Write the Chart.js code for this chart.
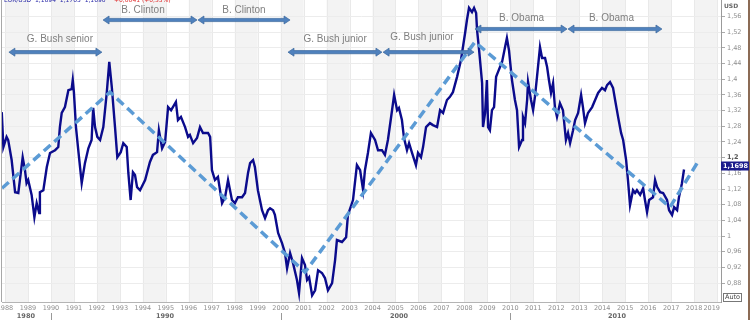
<!DOCTYPE html>
<html>
<head>
<meta charset="utf-8">
<script src="https://cdn.jsdelivr.net/npm/chart.js@4.4.1/dist/chart.umd.min.js"></script>
<style>
  html, body { margin: 0; padding: 0; background: #fff; }
  canvas { display: block; }
</style>
</head>
<body>
<canvas id="fxChart" width="754" height="335"></canvas>
<script>
// EUR/USD (ECU before 1999), decimal years
const years = [
  1987.86, 1987.93, 1988.07, 1988.14, 1988.29, 1988.44, 1988.58, 1988.77, 1988.87, 1988.94,
  1989.01, 1989.16, 1989.28, 1989.38, 1989.49, 1989.52, 1989.67, 1989.82, 1989.96, 1990.18,
  1990.32, 1990.39, 1990.47, 1990.61, 1990.76, 1990.90, 1990.95, 1991.00, 1991.09, 1991.19,
  1991.34, 1991.48, 1991.63, 1991.77, 1991.84, 1991.92, 1992.02, 1992.14, 1992.28, 1992.43,
  1992.54, 1992.65, 1992.79, 1992.89, 1993.04, 1993.15, 1993.30, 1993.37, 1993.47, 1993.57,
  1993.66, 1993.75, 1993.88, 1994.10, 1994.31, 1994.44, 1994.62, 1994.70, 1994.84, 1994.97,
  1995.10, 1995.23, 1995.31, 1995.44, 1995.53, 1995.66, 1995.84, 1995.97, 1996.05, 1996.19,
  1996.36, 1996.49, 1996.62, 1996.84, 1996.93, 1997.01, 1997.14, 1997.27, 1997.45, 1997.58,
  1997.71, 1997.88, 1998.01, 1998.14, 1998.32, 1998.45, 1998.58, 1998.67, 1998.80, 1998.88,
  1999.01, 1999.19, 1999.32, 1999.45, 1999.54, 1999.67, 1999.75, 1999.89, 2000.06, 2000.19,
  2000.28, 2000.41, 2000.54, 2000.71, 2000.80, 2000.93, 2001.06, 2001.15, 2001.24, 2001.37,
  2001.50, 2001.63, 2001.80, 2001.93, 2002.06, 2002.24, 2002.37, 2002.45, 2002.67, 2002.85,
  2002.93, 2003.15, 2003.32, 2003.46, 2003.59, 2003.67, 2003.80, 2003.93, 2004.11, 2004.24,
  2004.41, 2004.54, 2004.67, 2004.85, 2004.94, 2005.07, 2005.15, 2005.28, 2005.37, 2005.50,
  2005.59, 2005.72, 2005.89, 2005.98, 2006.11, 2006.20, 2006.33, 2006.50, 2006.63, 2006.81,
  2006.94, 2007.07, 2007.24, 2007.37, 2007.50, 2007.68, 2007.85, 2008.03, 2008.11, 2008.20,
  2008.33, 2008.42, 2008.51, 2008.55, 2008.64, 2008.77, 2008.81, 2008.90, 2008.98, 2009.03,
  2009.11, 2009.20, 2009.29, 2009.38, 2009.46, 2009.55, 2009.64, 2009.77, 2009.85, 2009.94,
  2010.07, 2010.20, 2010.29, 2010.38, 2010.51, 2010.55, 2010.64, 2010.73, 2010.77, 2010.90,
  2010.99, 2011.07, 2011.16, 2011.29, 2011.38, 2011.51, 2011.60, 2011.68, 2011.77, 2011.86,
  2011.94, 2012.03, 2012.16, 2012.29, 2012.42, 2012.51, 2012.60, 2012.73, 2012.82, 2012.95,
  2013.08, 2013.16, 2013.25, 2013.38, 2013.56, 2013.69, 2013.82, 2013.99, 2014.12, 2014.21,
  2014.34, 2014.47, 2014.56, 2014.69, 2014.82, 2014.91, 2015.04, 2015.12, 2015.21, 2015.34,
  2015.43, 2015.51, 2015.65, 2015.78, 2015.86, 2015.95, 2016.04, 2016.21, 2016.30, 2016.39,
  2016.52, 2016.65, 2016.82, 2016.91, 2017.04, 2017.13, 2017.26, 2017.34, 2017.47, 2017.56
];
const rates = [
  1.316, 1.227, 1.253, 1.245, 1.194, 1.112, 1.110, 1.201, 1.168, 1.135,
  1.143, 1.105, 1.048, 1.084, 1.059, 1.112, 1.117, 1.176, 1.212, 1.219,
  1.227, 1.278, 1.314, 1.329, 1.372, 1.375, 1.398, 1.367, 1.278, 1.219,
  1.135, 1.186, 1.224, 1.245, 1.327, 1.278, 1.253, 1.245, 1.278, 1.365,
  1.444, 1.380, 1.278, 1.201, 1.214, 1.237, 1.227, 1.161, 1.092, 1.163,
  1.156, 1.125, 1.117, 1.143, 1.189, 1.207, 1.214, 1.270, 1.224, 1.240,
  1.329, 1.321, 1.329, 1.342, 1.296, 1.304, 1.278, 1.253, 1.258, 1.237,
  1.250, 1.278, 1.263, 1.263, 1.253, 1.168, 1.143, 1.151, 1.084, 1.099,
  1.143, 1.092, 1.084, 1.099, 1.099, 1.110, 1.161, 1.186, 1.194, 1.176,
  1.117, 1.066, 1.046, 1.066, 1.071, 1.066, 1.054, 1.008, 0.982, 0.957,
  0.918, 0.957, 0.931, 0.888, 0.855, 0.944, 0.926, 0.888, 0.895, 0.849,
  0.862, 0.913, 0.906, 0.893, 0.862, 0.880, 0.939, 0.990, 0.985, 0.997,
  1.054, 1.092, 1.181, 1.168, 1.117, 1.168, 1.212, 1.263, 1.245, 1.219,
  1.219, 1.207, 1.245, 1.321, 1.360, 1.321, 1.327, 1.296, 1.250, 1.219,
  1.237, 1.212, 1.181, 1.212, 1.201, 1.227, 1.278, 1.288, 1.283, 1.278,
  1.321, 1.314, 1.347, 1.355, 1.367, 1.406, 1.449, 1.518, 1.551, 1.582,
  1.571, 1.582, 1.569, 1.526, 1.474, 1.390, 1.278, 1.314, 1.398, 1.278,
  1.270, 1.321, 1.329, 1.406, 1.418, 1.431, 1.444, 1.482, 1.505, 1.474,
  1.398, 1.347, 1.321, 1.227, 1.245, 1.304, 1.288, 1.347, 1.393, 1.347,
  1.321, 1.355, 1.406, 1.482, 1.454, 1.454, 1.431, 1.398, 1.365, 1.390,
  1.329, 1.304, 1.339, 1.321, 1.245, 1.263, 1.237, 1.270, 1.296, 1.314,
  1.360, 1.329, 1.288, 1.314, 1.329, 1.347, 1.365, 1.378, 1.372, 1.385,
  1.393, 1.378, 1.347, 1.304, 1.263, 1.245, 1.194, 1.143, 1.079, 1.117,
  1.110, 1.117, 1.105, 1.122, 1.092, 1.061, 1.092, 1.099, 1.143, 1.125,
  1.112, 1.110, 1.092, 1.066, 1.054, 1.074, 1.066, 1.099, 1.135, 1.1698
];

// hand-drawn trend channel (vertices)
const trendYears = [1987.87, 1992.57, 2001.06, 2008.46, 2016.95, 2018.13];
const trendRates = [1.122, 1.367, 0.908, 1.495, 1.074, 1.186];

// presidential terms shown as double arrows
const termNames = ['G. Bush senior', 'B. Clinton', 'B. Clinton', 'G. Bush junior', 'G. Bush junior', 'B. Obama', 'B. Obama'];
const termFrom = [1988.17, 1992.27, 1996.40, 2000.32, 2004.46, 2008.46, 2012.51];
const termTo = [1992.22, 1996.36, 2000.41, 2004.41, 2008.42, 2012.47, 2016.60];
const termLevel = [1.469, 1.551, 1.551, 1.469, 1.469, 1.528, 1.528];
const termTextAt = [1990.39, 1994.01, 1998.40, 2002.37, 2006.15, 2010.49, 2014.40];
const termTextLevel = [1.503, 1.577, 1.577, 1.502, 1.506, 1.556, 1.556];

// axis ticks
const yearTicks = [1988, 1989, 1990, 1991, 1992, 1993, 1994, 1995, 1996, 1997, 1998, 1999, 2000, 2001, 2002, 2003,
  2004, 2005, 2006, 2007, 2008, 2009, 2010, 2011, 2012, 2013, 2014, 2015, 2016, 2017, 2018, 2019];
const decadeNames = ['1980', '1990', '2000', '2010'];
const decadeTextAt = [1988.91, 1994.97, 2005.15, 2014.64];
const decadeMarks = [1990, 2000, 2010];
const rateTicks = [0.88, 0.92, 0.96, 1, 1.04, 1.08, 1.12, 1.16, 1.2, 1.24, 1.28, 1.32, 1.36, 1.4, 1.44, 1.48, 1.52, 1.56];
const lastRate = rates[rates.length - 1];

const fmt = v => String(v).replace('.', ',');
const smallFont = '6.5px "DejaVu Sans", sans-serif';

function drawArrow(ctx, x0, x1, yy) {
  const head = 6, half = 4, shaft = 1.6;
  ctx.beginPath();
  ctx.moveTo(x0, yy);
  ctx.lineTo(x0 + head, yy - half);
  ctx.lineTo(x0 + head, yy - shaft);
  ctx.lineTo(x1 - head, yy - shaft);
  ctx.lineTo(x1 - head, yy - half);
  ctx.lineTo(x1, yy);
  ctx.lineTo(x1 - head, yy + half);
  ctx.lineTo(x1 - head, yy + shaft);
  ctx.lineTo(x0 + head, yy + shaft);
  ctx.lineTo(x0 + head, yy + half);
  ctx.closePath();
  ctx.fillStyle = '#4f81bd';
  ctx.fill();
  ctx.strokeStyle = '#3b679c';
  ctx.lineWidth = 0.7;
  ctx.stroke();
}

const decorations = {
  id: 'decorations',
  beforeDraw(chart) {
    const {ctx, chartArea: a, scales: {x}} = chart;
    ctx.save();
    ctx.fillStyle = '#fff';
    ctx.fillRect(0, 0, chart.width, chart.height);
    ctx.beginPath();
    ctx.rect(a.left, a.top, a.width, a.height);
    ctx.clip();
    yearTicks.forEach(yr => {
      const x0 = x.getPixelForValue(yr), x1 = x.getPixelForValue(yr + 1);
      if (yr % 2 === 0) {
        ctx.fillStyle = '#f3f3f3';
        ctx.fillRect(x0, a.top, x1 - x0, a.height);
      }
      ctx.fillStyle = '#e9e9e9';
      ctx.fillRect(Math.round(x0), a.top, 1, a.height);
    });
    ctx.restore();
  },
  afterDatasetsDraw(chart) {
    const {ctx, scales: {x, y}} = chart;
    ctx.save();
    termNames.forEach((name, i) => {
      drawArrow(ctx, x.getPixelForValue(termFrom[i]), x.getPixelForValue(termTo[i]), y.getPixelForValue(termLevel[i]));
      ctx.font = '10px "Liberation Sans", Arial, sans-serif';
      ctx.fillStyle = '#7f7f7f';
      ctx.textAlign = 'center';
      ctx.textBaseline = 'middle';
      ctx.fillText(name, x.getPixelForValue(termTextAt[i]), y.getPixelForValue(termTextLevel[i]));
    });
    ctx.restore();
  },
  afterDraw(chart) {
    const {ctx, chartArea: a, scales: {x, y}} = chart;
    ctx.save();

    // plot frame bits
    ctx.fillStyle = '#a8a8a8';
    ctx.fillRect(a.left - 1, a.top, 1, a.bottom - a.top);
    ctx.fillStyle = '#8b6b55';
    ctx.fillRect(748, 0, 2, 320);

    // quote header, cut off by the top edge
    ctx.font = '6px "DejaVu Sans", sans-serif';
    ctx.textBaseline = 'middle';
    ctx.textAlign = 'left';
    ctx.fillStyle = '#2a2aa8';
    ctx.fillText('EUR/USD  1,1694  1,1705  1,1690', 4, 0);
    ctx.fillStyle = '#e03030';
    ctx.fillText('+0,0041 (+0,35%)', 114, 0);

    // right axis labels
    ctx.textAlign = 'left';
    rateTicks.forEach(v => {
      ctx.font = v === 1.2 ? 'bold ' + smallFont : smallFont;
      ctx.fillStyle = v === 1.2 ? '#555' : '#8f8f8f';
      ctx.fillText(fmt(v), a.right + 6, y.getPixelForValue(v));
    });
    ctx.font = 'bold 6px "DejaVu Sans", sans-serif';
    ctx.fillStyle = '#666';
    ctx.fillText('USD', a.right + 3, 6);

    // last close tag
    const ty = y.getPixelForValue(lastRate);
    ctx.fillStyle = '#1c1c8c';
    ctx.fillRect(a.right, ty - 8, 28, 9);
    ctx.fillStyle = '#fff';
    ctx.font = 'bold 6.5px "DejaVu Sans", sans-serif';
    ctx.fillText(fmt(lastRate), a.right + 2, ty - 3.5);

    // Auto button
    ctx.strokeStyle = '#777';
    ctx.lineWidth = 1;
    ctx.strokeRect(a.right + 2.5, a.bottom - 8.5, 18, 8);
    ctx.fillStyle = '#444';
    ctx.font = smallFont;
    ctx.fillText('Auto', a.right + 4, a.bottom - 4.5);

    // year labels
    ctx.font = smallFont;
    ctx.fillStyle = '#8f8f8f';
    ctx.textAlign = 'center';
    yearTicks.forEach(yr => {
      let px = x.getPixelForValue(yr);
      const w = ctx.measureText(String(yr)).width;
      px = Math.min(px, a.right - w / 2 - 1);
      ctx.fillText(String(yr), px, a.bottom + 6);
    });

    // decade row
    ctx.font = 'bold ' + smallFont;
    ctx.fillStyle = '#666';
    decadeNames.forEach((d, i) => ctx.fillText(d, x.getPixelForValue(decadeTextAt[i]), a.bottom + 14));
    ctx.fillStyle = '#999';
    decadeMarks.forEach(d => ctx.fillRect(Math.round(x.getPixelForValue(d)), a.bottom + 11, 1, 7));

    ctx.restore();
  }
};

new Chart(document.getElementById('fxChart'), {
  type: 'line',
  data: {
    datasets: [
      {
        label: 'Trend',
        data: trendYears.map((t, i) => ({x: t, y: trendRates[i]})),
        borderColor: '#5b9bd5',
        borderWidth: 3.5,
        borderDash: [9, 5],
        pointRadius: 0,
        order: 0
      },
      {
        label: 'EUR/USD',
        data: years.map((t, i) => ({x: t, y: rates[i]})),
        borderColor: '#0b0b8c',
        borderWidth: 2.4,
        pointRadius: 0,
        tension: 0,
        order: 1
      }
    ]
  },
  options: {
    responsive: false,
    devicePixelRatio: 1,
    animation: false,
    layout: {padding: {left: 2, top: 0, right: 0, bottom: 0}},
    plugins: {legend: {display: false}, tooltip: {enabled: false}},
    scales: {
      x: {
        type: 'linear',
        min: 1987.87,
        max: 2019.17,
        afterBuildTicks: s => { s.ticks = yearTicks.map(v => ({value: v})); },
        afterFit: s => { s.height = 33; },
        grid: {display: false},
        border: {color: '#b4b4b4'},
        ticks: {display: false}
      },
      y: {
        position: 'right',
        min: 0.832,
        max: 1.602,
        afterBuildTicks: s => { s.ticks = rateTicks.map(v => ({value: v})); },
        afterFit: s => { s.width = 33; },
        grid: {color: '#ececec', tickColor: '#aaa', tickLength: 4},
        border: {color: '#9a9a9a'},
        ticks: {display: false}
      }
    }
  },
  plugins: [decorations]
});
</script>
</body>
</html>
